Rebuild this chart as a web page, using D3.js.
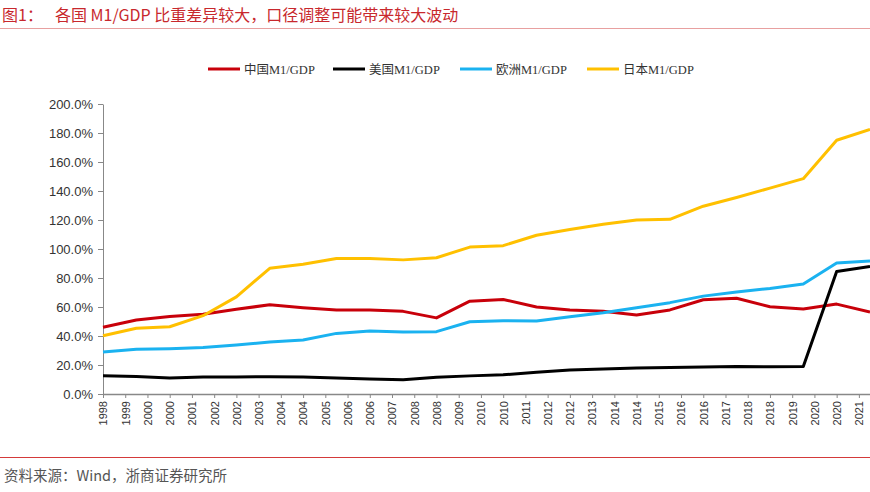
<!DOCTYPE html>
<html>
<head>
<meta charset="utf-8">
<script src="https://cdn.jsdelivr.net/npm/d3@7"></script>
<style>
  body { margin: 0; background: #fff; }
  svg { display: block; }
</style>
</head>
<body>
<svg id="chart" width="870" height="492"></svg>
<script>
// 年度数据 1998-2021
var years = d3.range(1998, 2022);
var china = [46, 51, 53.5, 55, 58.5, 61.5, 59.5, 58, 58, 57, 52.5, 64, 65.2, 60, 58, 57, 54.5, 58, 65, 66, 60.2, 58.6, 62, 56.5];
var usa = [12.6, 12, 11, 11.8, 11.8, 11.9, 11.8, 11, 10.3, 9.8, 11.5, 12.5, 13.2, 15, 16.5, 17.3, 18, 18.2, 18.6, 19, 18.8, 18.9, 84.5, 88];
var euro = [29, 30.8, 31.2, 32, 33.8, 35.9, 37.2, 41.8, 43.5, 42.7, 43, 49.8, 50.6, 50.3, 53.3, 56, 59.5, 63, 67.5, 70.4, 72.8, 75.8, 90.3, 91.8];
var japan = [40.2, 45.3, 46.4, 54, 67, 86.7, 89.5, 93.4, 93.4, 92.5, 94, 101.3, 102.3, 109.5, 113.5, 117, 120, 120.5, 129.5, 135.5, 142, 148.5, 175, 182.5];

// x 轴标签（原图按约 8 个月一个刻度）
var tickLabels = ["1998","1999","2000","2000","2001","2002","2002","2003","2004","2004","2005","2006","2006","2007","2008","2008","2009","2010","2010","2011","2012","2012","2013","2014","2014","2015","2016","2016","2017","2018","2018","2019","2020","2020","2021"];
var yTicks = [0, 20, 40, 60, 80, 100, 120, 140, 160, 180, 200];

var seriesNames = ["中国M1/GDP", "美国M1/GDP", "欧洲M1/GDP", "日本M1/GDP"];
var seriesColors = ["#c8000a", "#000000", "#1ab2f0", "#ffc000"];
var seriesData = [china, usa, euro, japan];

var svg = d3.select("#chart");
var plotLeft = 103, plotRight = 870, plotTop = 104, plotBottom = 394;

var x = d3.scaleLinear().domain([1998, 2021]).range([plotLeft, plotRight]);
var y = d3.scaleLinear().domain([0, 200]).range([plotBottom, plotTop]);

// 标题
var title = svg.append("text")
  .attr("x", 2).attr("y", 21)
  .attr("fill", "#c8282d")
  .style("font-family", "'Noto Sans CJK SC', sans-serif")
  .style("font-size", "16px");
title.append("tspan").text("图1：");
title.append("tspan").attr("x", 55).text("各国 M1/GDP 比重差异较大，口径调整可能带来较大波动");

svg.append("line")
  .attr("x1", 0).attr("x2", 870).attr("y1", 28.5).attr("y2", 28.5)
  .attr("stroke", "#e8a0a0").attr("stroke-width", 1);

// 页脚
svg.append("line")
  .attr("x1", 0).attr("x2", 870).attr("y1", 457.5).attr("y2", 457.5)
  .attr("stroke", "#d43a3a").attr("stroke-width", 1.2);

svg.append("text")
  .attr("x", 4).attr("y", 481)
  .attr("fill", "#555")
  .style("font-family", "'Noto Sans CJK SC', sans-serif")
  .style("font-size", "14.5px")
  .text("资料来源：Wind，浙商证券研究所");

// y 轴
var yAxis = d3.axisLeft(y)
  .tickValues(yTicks)
  .tickSize(5)
  .tickSizeOuter(0)
  .tickFormat(function(d){ return d.toFixed(1) + "%"; });

var gy = svg.append("g")
  .attr("transform", "translate(" + plotLeft + ",0)")
  .call(yAxis);
gy.select(".domain").attr("stroke", "#888");
gy.selectAll(".tick line").attr("stroke", "#888");
gy.selectAll(".tick text")
  .attr("fill", "#333")
  .attr("x", -10)
  .style("font-family", "'Liberation Sans', Arial, sans-serif")
  .style("font-size", "13px");

// x 轴
var tickPos = tickLabels.map(function(d, i){ return 1998 + i * 2 / 3; });
var xAxis = d3.axisBottom(x)
  .tickValues(tickPos)
  .tickSize(4)
  .tickSizeOuter(0)
  .tickFormat(function(d, i){ return tickLabels[i]; });

var gx = svg.append("g")
  .attr("transform", "translate(0," + plotBottom + ")")
  .call(xAxis);
gx.select(".domain").attr("stroke", "#888").attr("stroke-width", 1.5);
gx.selectAll(".tick line").attr("stroke", "#888");
gx.selectAll(".tick text")
  .attr("fill", "#333")
  .attr("transform", "rotate(-90)")
  .attr("text-anchor", "end")
  .attr("x", -7)
  .attr("y", 0)
  .attr("dy", "0.35em")
  .style("font-family", "'Liberation Sans', Arial, sans-serif")
  .style("font-size", "11px");

// 折线
var line = d3.line()
  .x(function(d, i){ return x(years[i]); })
  .y(function(d){ return y(d); });

seriesData.forEach(function(s, k){
  svg.append("path")
    .datum(s)
    .attr("fill", "none")
    .attr("stroke", seriesColors[k])
    .attr("stroke-width", 3)
    .attr("stroke-linejoin", "round")
    .attr("d", line);
});

// 图例
var legendX = [208, 333, 460, 587];
var legend = svg.append("g");
seriesNames.forEach(function(name, k){
  legend.append("line")
    .attr("x1", legendX[k]).attr("x2", legendX[k] + 32)
    .attr("y1", 69).attr("y2", 69)
    .attr("stroke", seriesColors[k]).attr("stroke-width", 3);
  legend.append("text")
    .attr("x", legendX[k] + 36).attr("y", 73.5)
    .attr("fill", "#333")
    .style("font-family", "'Liberation Serif', 'Noto Sans CJK SC', serif")
    .style("font-size", "12.5px")
    .text(name);
});
</script>
</body>
</html>
